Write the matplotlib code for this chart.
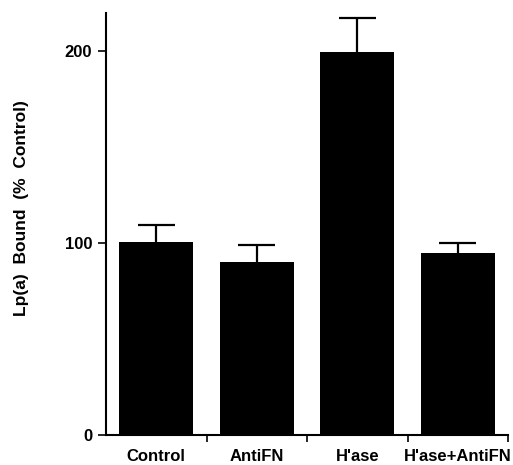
import matplotlib
matplotlib.use("Agg")
import matplotlib.pyplot as plt
import numpy as np

categories = ["Control", "AntiFN", "H'ase", "H'ase+AntiFN"]
values = [100.5, 90.3, 199.7, 94.8]
errors = [8.8, 8.5, 17.8, 5.4]
yticks = [0, 100, 200]

plt.rcParams['font.family'] = ['Liberation Sans', 'DejaVu Sans']

fig = plt.figure(figsize=(5.13, 4.65), dpi=100)
ax = fig.add_axes([106/513, 30/465, 402/513, 422/465])

x = np.arange(len(categories))
v = np.array(values)
e = np.array(errors)
ax.bar(x, v, width=0.74, color='black', zorder=2)
ax.vlines(x, v, v + e, color='black', linewidth=1.6, zorder=1)
ax.hlines(v + e, x - 0.185, x + 0.185, color='black', linewidth=1.6, zorder=1)

ax.set_xlim(-0.5, 3.5)
ax.set_ylim(0, 220)
ax.set_yticks(yticks)
ax.set_yticklabels([str(t) for t in yticks], fontsize=12, fontweight='bold')
ax.set_xticks(x)
ax.set_xticklabels(categories, fontsize=12, fontweight='bold')
ax.set_xticks([0.5, 1.5, 2.5, 3.5], minor=True)
ax.tick_params(axis='x', which='major', length=0, pad=10)
ax.tick_params(axis='x', which='minor', length=5, width=1.2, direction='out')
ax.tick_params(axis='y', length=6, width=1.2, pad=4)

for s in ['top', 'right']:
    ax.spines[s].set_visible(False)
for s in ['left', 'bottom']:
    ax.spines[s].set_linewidth(1.5)

fig.text(22/513, 1 - 208/465, "Lp(a)  Bound  (%  Control)", rotation=90,
         ha='center', va='center', fontsize=12.5, fontweight='bold')

fig.savefig("out.png", dpi=100)
